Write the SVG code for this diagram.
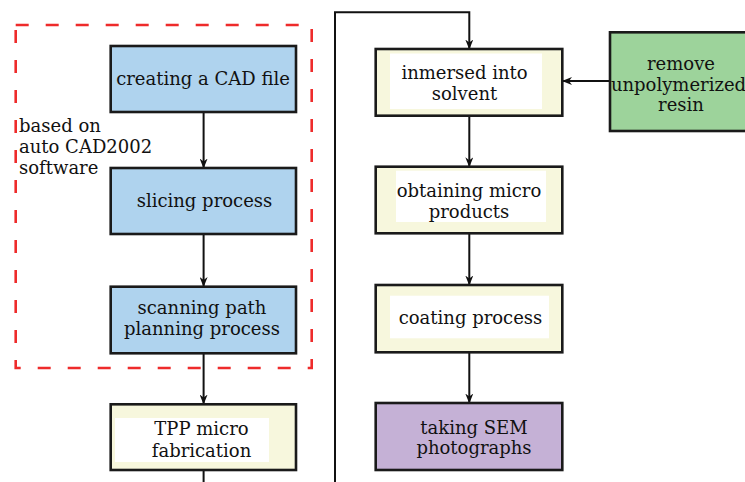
<svg xmlns="http://www.w3.org/2000/svg" width="745" height="482" viewBox="0 0 745 482">
  <style>
    .box { stroke: #1a1a1a; stroke-width: 2.6; }
    .blue { fill: #afd3ee; }
    .cream { fill: #f7f7dd; }
    .green { fill: #9dd39b; }
    .purple { fill: #c5b1d6; }
    .inner { fill: #ffffff; stroke: none; }
    .t { font-family: "DejaVu Serif", "Liberation Serif", serif; font-size: 18px; fill: #111111; text-anchor: middle; }
    .lbl { font-family: "DejaVu Serif", "Liberation Serif", serif; font-size: 18px; fill: #111111; }
    .edge { fill: none; stroke: #111111; stroke-width: 2; }
  </style>
  <defs>
    <marker id="arrow" markerWidth="10" markerHeight="8" refX="9.5" refY="4" orient="auto" markerUnits="userSpaceOnUse">
      <path d="M0,0 L10,4 L0,8 L3,4 z" fill="#111111"/>
    </marker>
  </defs>
  <rect width="745" height="482" fill="#ffffff"/>

  <!-- CAD group boundary -->
  <g id="cad-group">
    <rect x="15.7" y="25" width="296" height="343" fill="none" stroke="#ee2b2b" stroke-width="2.6" stroke-dasharray="13 17"/>
    <text class="lbl" x="19" y="132">based on</text>
    <text class="lbl" x="19" y="153">auto CAD2002</text>
    <text class="lbl" x="19" y="174">software</text>
  </g>

  <g id="connectors">
    <line class="edge" x1="203.6" y1="112" x2="203.6" y2="168" marker-end="url(#arrow)"/>
    <line class="edge" x1="203.6" y1="234" x2="203.6" y2="286.5" marker-end="url(#arrow)"/>
    <line class="edge" x1="203.6" y1="353" x2="203.6" y2="404" marker-end="url(#arrow)"/>
    <line class="edge" x1="203.6" y1="470" x2="203.6" y2="482"/>
    <polyline class="edge" points="335,482 335,12.3 469.3,12.3 469.3,49" marker-end="url(#arrow)"/>
    <line class="edge" x1="610" y1="81" x2="562.5" y2="81" marker-end="url(#arrow)"/>
    <line class="edge" x1="469.3" y1="115.7" x2="469.3" y2="166.7" marker-end="url(#arrow)"/>
    <line class="edge" x1="469.3" y1="233.3" x2="469.3" y2="285" marker-end="url(#arrow)"/>
    <line class="edge" x1="469.3" y1="352.3" x2="469.3" y2="403" marker-end="url(#arrow)"/>
  </g>

  <g id="cad-file">
    <rect class="box blue" x="110.7" y="46" width="185.3" height="66"/>
    <text class="t" x="203" y="85">creating a CAD file</text>
  </g>
  <g id="slicing">
    <rect class="box blue" x="110.7" y="168" width="185.3" height="66"/>
    <text class="t" x="204.5" y="207">slicing process</text>
  </g>
  <g id="path-planning">
    <rect class="box blue" x="110.7" y="286.7" width="185.3" height="66.6"/>
    <text class="t" x="202" y="314">scanning path</text>
    <text class="t" x="202" y="335">planning process</text>
  </g>
  <g id="tpp">
    <rect class="box cream" x="110.7" y="404.3" width="185.3" height="65.7"/>
    <rect class="inner" x="115" y="418" width="154" height="44"/>
    <text class="t" x="201.5" y="435">TPP micro</text>
    <text class="t" x="201.5" y="456.5">fabrication</text>
  </g>
  <g id="solvent">
    <rect class="box cream" x="375.7" y="49" width="186.6" height="66.7"/>
    <rect class="inner" x="390" y="53.5" width="152" height="55.5"/>
    <text class="t" x="464.5" y="79">inmersed into</text>
    <text class="t" x="464.5" y="100">solvent</text>
  </g>
  <g id="remove-resin">
    <rect class="box green" x="610" y="32.3" width="145" height="98.7"/>
    <text class="t" x="681" y="69.5">remove</text>
    <text class="t" x="678.5" y="90.5" font-size="17.6">unpolymerized</text>
    <text class="t" x="681" y="110.5">resin</text>
  </g>
  <g id="micro-products">
    <rect class="box cream" x="375.7" y="166.7" width="186.6" height="66.6"/>
    <rect class="inner" x="396" y="170.7" width="150" height="51.3"/>
    <text class="t" x="469" y="197">obtaining micro</text>
    <text class="t" x="469" y="217.5">products</text>
  </g>
  <g id="coating">
    <rect class="box cream" x="375.7" y="285" width="186.6" height="67.3"/>
    <rect class="inner" x="390" y="295.7" width="159" height="42.6"/>
    <text class="t" x="470.5" y="324">coating process</text>
  </g>
  <g id="sem">
    <rect class="box purple" x="375.7" y="403" width="186.6" height="67"/>
    <text class="t" x="474" y="433.5">taking SEM</text>
    <text class="t" x="474" y="453.5">photographs</text>
  </g>
</svg>
